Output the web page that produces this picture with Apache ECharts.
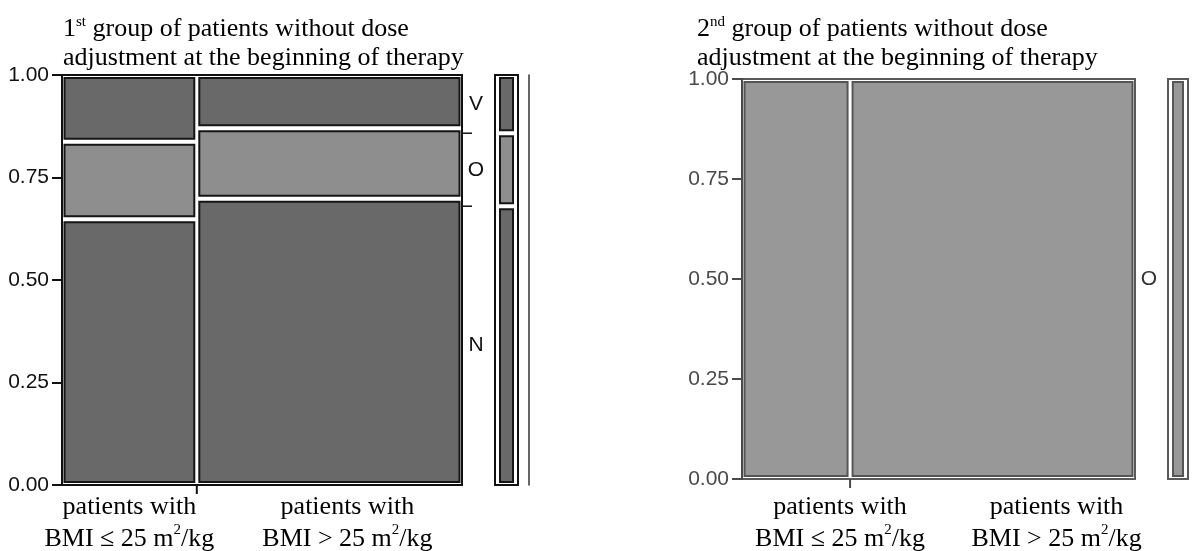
<!DOCTYPE html>
<html><head><meta charset="utf-8">
<script src="https://cdn.jsdelivr.net/npm/echarts@6/dist/echarts.min.js"></script>
<style>html,body{margin:0;padding:0;background:#fff}#c{width:1197px;height:551px}</style>
</head><body><div id="c"></div>
<script>
// ---------------- data ----------------
const levels = ['N', 'O', 'V'];                 // stacked bottom -> top
const catLine1 = ['patients with', 'patients with'];
const catLine2 = ['BMI ≤ 25 m²/kg', 'BMI > 25 m²/kg'];
const yTicks = [0, 0.25, 0.5, 0.75, 1];

const g1TitleNum = '1', g1TitleSup = 'st';
const g2TitleNum = '2', g2TitleSup = 'nd';
const titleRest1 = ' group of patients without dose';
const titleLine2 = 'adjustment at the beginning of therapy';

// group 1: column shares and conditional proportions per level
const g1ColShare = [0.337, 0.663];
const g1N = [0.648, 0.698];
const g1O = [0.189, 0.172];
const g1V = [0.163, 0.130];
const g1Margin = [0.680, 0.178, 0.142];   // N, O, V overall

// group 2
const g2ColShare = [0.275, 0.725];
const g2N = [0, 0];
const g2O = [1, 1];
const g2V = [0, 0];
const g2Margin = [0, 1, 0];

// ---------------- layout (pixel shifts of the category texts, as in the original figure) ----------------
const g1LabelShift = [0, 18];
const g2LabelShift = [44, 64];

// ---------------- helpers ----------------
function buildCells(share, N, O, V) {
  const out = []; let x = 0;
  share.forEach((w, c) => {
    let y = 0;
    [N[c], O[c], V[c]].forEach((p, li) => {
      if (p > 0) out.push([x, x + w, y, y + p, li]);
      y += p;
    });
    x += w;
  });
  return out;
}
function buildMargin(m) {
  const out = []; let y = 0;
  m.forEach((p, li) => { if (p > 0) out.push([0, 1, y, y + p, li]); y += p; });
  return out;
}
function mids(share) { const o = []; let x = 0; share.forEach((w, i) => { o.push([x + w / 2, i]); x += w; }); return o; }
function bounds(share) { const o = []; let x = 0; share.slice(0, -1).forEach(w => { x += w; o.push([x, 0]); }); return o; }
function supText(s) { return s.replace(/²/g, '{sup|2}'); }

const NARROW = "'Liberation Sans Narrow', 'Arial Narrow', 'Liberation Sans', sans-serif";
const SERIF = "'Liberation Serif', 'Times New Roman', serif";

function cellRender(inX, inY, colors, stroke, lw) {
  return function (params, api) {
    const a = api.coord([api.value(0), api.value(3)]);
    const b = api.coord([api.value(1), api.value(2)]);
    return {
      type: 'rect',
      shape: { x: a[0] + inX, y: a[1] + inY, width: b[0] - a[0] - 2 * inX, height: b[1] - a[1] - 2 * inY },
      style: { fill: colors[api.value(4)], stroke: stroke, lineWidth: lw }
    };
  };
}
function catRender(offY, shifts, color) {
  return function (params, api) {
    const p = api.coord([api.value(0), 0]);
    const i = api.value(1);
    return {
      type: 'text',
      style: {
        x: p[0] + shifts[i], y: p[1] + offY,
        text: catLine1[i] + '\n' + supText(catLine2[i]),
        align: 'center', verticalAlign: 'top',
        fontFamily: SERIF, fontSize: 26, lineHeight: 32, fill: color,
        rich: { sup: { fontFamily: SERIF, fontSize: 15, lineHeight: 17, verticalAlign: 'top', fill: color } }
      }
    };
  };
}
function tickRender(len, color) {
  return function (params, api) {
    const p = api.coord([api.value(0), 0]);
    return { type: 'line', shape: { x1: p[0], y1: p[1], x2: p[0], y2: p[1] + len }, style: { stroke: color, lineWidth: 2 } };
  };
}
function levelLabelRender(dx, color, showSep) {
  return function (params, api) {
    const y0 = api.value(2), y1 = api.value(3), li = api.value(4);
    const pm = api.coord([1, (y0 + y1) / 2]);
    const children = [{
      type: 'text',
      style: { x: pm[0] + dx, y: pm[1], text: levels[li], align: 'center', verticalAlign: 'middle',
               fontFamily: NARROW, fontSize: 21, fill: color }
    }];
    if (showSep && y1 < 0.9999) {
      const pt = api.coord([1, y1]);
      children.push({ type: 'line', shape: { x1: pt[0], y1: pt[1], x2: pt[0] + 10, y2: pt[1] }, style: { stroke: color, lineWidth: 1.5 } });
    }
    return { type: 'group', children: children };
  };
}

const g1Cells = buildCells(g1ColShare, g1N, g1O, g1V);
const g2Cells = buildCells(g2ColShare, g2N, g2O, g2V);
const g1Marg = buildMargin(g1Margin);
const g2Marg = buildMargin(g2Margin);

const c1Colors = ['#696969', '#8e8e8e', '#696969'];
const c2Colors = ['#989898', '#989898', '#989898'];

function yAx(gi, color, show) {
  return {
    type: 'value', gridIndex: gi, min: 0, max: 1, interval: 0.25,
    axisLine: { show: show, lineStyle: { color: color, width: 2 } },
    axisTick: { show: show, length: 10, lineStyle: { color: color, width: 2 } },
    axisLabel: { show: show, margin: 13, color: color, fontFamily: NARROW, fontSize: 21,
                 formatter: v => v.toFixed(2) },
    splitLine: { show: false }
  };
}
function xAx(gi) {
  return { type: 'value', gridIndex: gi, min: 0, max: 1,
           axisLine: { show: false }, axisTick: { show: false }, axisLabel: { show: false }, splitLine: { show: false } };
}
function titleOf(num, sup, left) {
  return {
    left: left, top: 10,
    text: '{n|' + num + '}{sup|' + sup + '}' + titleRest1 + '\n' + titleLine2,
    textStyle: { fontFamily: SERIF, fontSize: 26, fontWeight: 'normal', color: '#000', lineHeight: 29,
                 rich: { n: { fontFamily: SERIF, fontSize: 26, lineHeight: 29 },
                         sup: { fontFamily: SERIF, fontSize: 15, lineHeight: 17, verticalAlign: 'top' } } }
  };
}

const chart = echarts.init(document.getElementById('c'), null, { renderer: 'canvas' });
chart.setOption({
  animation: false,
  backgroundColor: '#fff',
  title: [titleOf(g1TitleNum, g1TitleSup, 58), titleOf(g2TitleNum, g2TitleSup, 692)],
  grid: [
    { left: 62, top: 75, width: 400, height: 410, show: true, borderColor: '#111', borderWidth: 2, backgroundColor: 'transparent' },
    { left: 495, top: 75, width: 23, height: 410, show: true, borderColor: '#111', borderWidth: 2, backgroundColor: 'transparent' },
    { left: 742, top: 79, width: 393, height: 400, show: true, borderColor: '#5a5a5a', borderWidth: 2, backgroundColor: 'transparent' },
    { left: 1168, top: 79, width: 20, height: 400, show: true, borderColor: '#5a5a5a', borderWidth: 2, backgroundColor: 'transparent' }
  ],
  xAxis: [xAx(0), xAx(1), xAx(2), xAx(3)],
  yAxis: [
    yAx(0, '#111', true), yAx(1, '#111', false), yAx(2, '#4a4a4a', true), yAx(3, '#4a4a4a', false),
    { type: 'value', gridIndex: 1, min: 0, max: 1, position: 'right', offset: 11,
      axisLine: { show: true, lineStyle: { color: '#333', width: 1.5 } }, axisTick: { show: false }, axisLabel: { show: false }, splitLine: { show: false } }
  ],
  series: [
    { type: 'custom', xAxisIndex: 0, yAxisIndex: 0, data: g1Cells, encode: { x: [0, 1], y: [2, 3] },
      renderItem: cellRender(2.5, 3, c1Colors, '#151515', 2) },
    { type: 'custom', xAxisIndex: 1, yAxisIndex: 1, data: g1Marg, encode: { x: [0, 1], y: [2, 3] },
      renderItem: cellRender(5, 3, c1Colors, '#151515', 2) },
    { type: 'custom', xAxisIndex: 0, yAxisIndex: 0, data: g1Marg, encode: { x: [0, 1], y: [2, 3] },
      renderItem: levelLabelRender(14, '#111', true) },
    { type: 'custom', xAxisIndex: 0, yAxisIndex: 0, data: mids(g1ColShare), encode: { x: 0, y: 1 },
      renderItem: catRender(6, g1LabelShift, '#000') },
    { type: 'custom', xAxisIndex: 0, yAxisIndex: 0, data: bounds(g1ColShare), encode: { x: 0, y: 1 },
      renderItem: tickRender(9, '#111') },

    { type: 'custom', xAxisIndex: 2, yAxisIndex: 2, data: g2Cells, encode: { x: [0, 1], y: [2, 3] },
      renderItem: cellRender(2.5, 3, c2Colors, '#555', 2) },
    { type: 'custom', xAxisIndex: 3, yAxisIndex: 3, data: g2Marg, encode: { x: [0, 1], y: [2, 3] },
      renderItem: cellRender(5, 3, c2Colors, '#555', 2) },
    { type: 'custom', xAxisIndex: 2, yAxisIndex: 2, data: g2Marg, encode: { x: [0, 1], y: [2, 3] },
      renderItem: levelLabelRender(14, '#333', false) },
    { type: 'custom', xAxisIndex: 2, yAxisIndex: 2, data: mids(g2ColShare), encode: { x: 0, y: 1 },
      renderItem: catRender(12, g2LabelShift, '#000') },
    { type: 'custom', xAxisIndex: 2, yAxisIndex: 2, data: bounds(g2ColShare), encode: { x: 0, y: 1 },
      renderItem: tickRender(9, '#4a4a4a') }
  ]
});
</script>
</body></html>
